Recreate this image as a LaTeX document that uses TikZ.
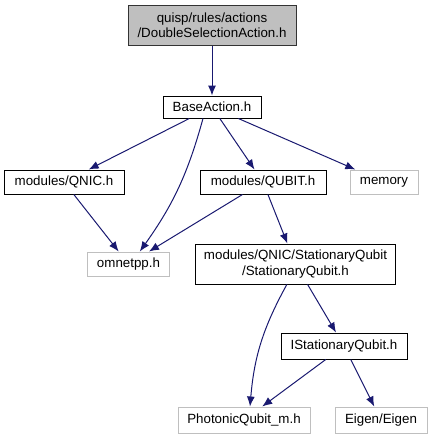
\documentclass[tikz,border=0pt]{standalone}
\usepackage{fontspec}
\setmainfont{Liberation Sans}
\usetikzlibrary{arrows.meta}
\definecolor{EdgeBlue}{HTML}{191970}
\definecolor{RootGray}{HTML}{BFBFBF}
\definecolor{ExtGray}{HTML}{BFBFBF}

\begin{document}
\begin{tikzpicture}[x=0.75pt,y=-0.75pt,>={Latex[length=7.5pt,width=6pt]}]
    \tikzset{
      file/.style={draw=black,line width=0.75pt,fill=white,inner sep=0pt,
        minimum height=18pt,align=center,font=\fontsize{10}{11.5}\selectfont},
      root/.style={file,fill=RootGray,draw=black!80},
      ext/.style={file,draw=ExtGray},
      dep/.style={->,EdgeBlue,line width=0.75pt}
    }
    \useasboundingbox (0,0) rectangle (431,440);
    \node[root,minimum width=126pt,minimum height=30pt] (dsa) at (212,25)
      {quisp/rules/actions\\/DoubleSelectionAction.h};
    \node[file,minimum width=73.5pt,minimum height=16.5pt] (base) at (212,107) {BaseAction.h};
    \node[file,minimum width=90pt] (qnic) at (64,182) {modules/QNIC.h};
    \node[file,minimum width=94.5pt] (qubit) at (263,182) {modules/QUBIT.h};
    \node[ext,minimum width=51pt] (memory) at (384,182) {memory};
    \node[ext,minimum width=62pt] (omnetpp) at (128.5,264) {omnetpp.h};
    \node[file,minimum width=150.5pt,minimum height=30pt] (stat) at (295.5,264)
      {modules/QNIC/StationaryQubit\\/StationaryQubit.h};
    \node[file,minimum width=94.5pt,minimum height=19.5pt] (istat) at (344,346) {IStationaryQubit.h};
    \node[ext,minimum width=99pt,minimum height=19.5pt] (photon) at (244,420) {PhotonicQubit\_m.h};
    \node[ext,minimum width=69pt,minimum height=19.5pt] (eigen) at (381,420) {Eigen/Eigen};
    \foreach \a/\b in {dsa/base,base/qnic,base/qubit,base/memory,qnic/omnetpp,
        qubit/omnetpp,qubit/stat,stat/istat,istat/photon,istat/eigen}
      \draw[dep] (\a) -- (\b);
    \draw[dep] ([xshift=-6.75pt]base.south) to[bend left=10] ([xshift=8.5pt]omnetpp.north);
    \draw[dep] ([xshift=-6.5pt]stat.south) to[bend right=12] ([xshift=4.5pt]photon.north);
  \end{tikzpicture}
\end{document}
